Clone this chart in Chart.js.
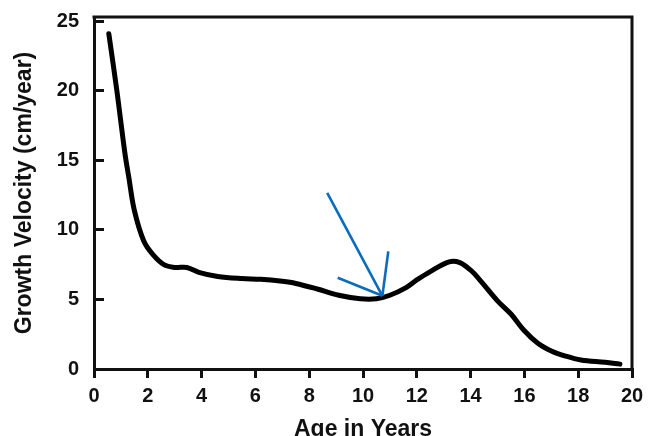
<!DOCTYPE html>
<html>
<head>
<meta charset="utf-8">
<script src="https://cdn.jsdelivr.net/npm/chart.js@4.4.1/dist/chart.umd.min.js"></script>
<style>
  html, body { margin: 0; padding: 0; background: #fff; }
  canvas { display: block; }
</style>
</head>
<body>
<canvas id="myChart" width="660" height="436"></canvas>
<script>
// growth velocity curve
const ages = [0.55, 0.85, 1.15, 1.3, 1.5, 1.85, 2.2, 2.6, 3.0, 3.45, 3.9, 4.6, 5.5, 6.2, 7.0, 7.5, 8.3, 9.1, 9.9, 10.5, 11.0, 11.6, 12.0, 12.5, 13.2, 13.6, 14.0, 14.3, 15.0, 15.5, 16.0, 16.5, 17.0, 17.5, 18.1, 19.0, 19.55];
const velocity = [24.1, 20.0, 15.5, 13.7, 11.4, 9.2, 8.2, 7.5, 7.3, 7.3, 6.95, 6.65, 6.5, 6.45, 6.3, 6.15, 5.75, 5.3, 5.05, 5.05, 5.3, 5.85, 6.4, 7.0, 7.7, 7.65, 7.1, 6.5, 4.9, 3.95, 2.75, 1.85, 1.3, 0.95, 0.65, 0.48, 0.35];

// blue pointer lines: all meet at one tip on the curve
const arrowTip = { x: 10.72, y: 5.26 };
const arrowTails = [
  { x: 8.67, y: 12.66 },
  { x: 9.06, y: 6.56 },
  { x: 10.94, y: 8.45 }
];

const xTicks = [0, 2, 4, 6, 8, 10, 12, 14, 16, 18, 20];
const yTicks = [0, 5, 10, 15, 20, 25];

const curve = ages.map((a, i) => ({ x: a, y: velocity[i] }));

const arrowSets = arrowTails.map(t => ({
  data: [t, arrowTip],
  borderColor: '#0a6cbc',
  borderWidth: 2.6,
  pointRadius: 0,
  tension: 0,
  order: 0
}));

// top and right edges of the box
const boxPlugin = {
  id: 'box',
  afterDraw(chart) {
    const { ctx, chartArea: a } = chart;
    ctx.save();
    ctx.strokeStyle = '#111';
    ctx.lineWidth = 3;
    ctx.beginPath();
    ctx.moveTo(a.left - 1.5, a.top);
    ctx.lineTo(a.right, a.top);
    ctx.lineTo(a.right, a.bottom + 1.5);
    ctx.stroke();
    ctx.restore();
  }
};

const font = { family: 'Liberation Sans, Arial, sans-serif', weight: 'bold', size: 20 };
const titleFont = { family: 'Liberation Sans, Arial, sans-serif', weight: 'bold', size: 23, lineHeight: 1 };

new Chart(document.getElementById('myChart'), {
  type: 'line',
  data: {
    datasets: [
      {
        data: curve,
        borderColor: '#000',
        borderWidth: 5,
        borderCapStyle: 'round',
        borderJoinStyle: 'round',
        pointRadius: 0,
        tension: 0.35,
        order: 1
      },
      ...arrowSets
    ]
  },
  options: {
    responsive: false,
    animation: false,
    devicePixelRatio: 1,
    layout: { padding: { left: 0, right: 28, top: 17, bottom: 0 } },
    plugins: { legend: { display: false }, tooltip: { enabled: false } },
    scales: {
      x: {
        type: 'linear',
        min: 0,
        max: 20,
        afterBuildTicks: s => { s.ticks = xTicks.map(v => ({ value: v })); },
        afterFit: s => { s.height = 67; s.paddingLeft = 0; s.paddingRight = 0; },
        grid: { drawOnChartArea: false, color: '#111', lineWidth: 3, tickLength: 9 },
        border: { color: '#111', width: 3 },
        ticks: { color: '#111', font, padding: 6, maxRotation: 0 },
        title: {
          display: true,
          text: 'Age in Years',
          color: '#111',
          font: titleFont,
          padding: { top: 0, bottom: -5 }
        }
      },
      y: {
        type: 'linear',
        min: 0,
        max: 25.3,
        afterBuildTicks: s => { s.ticks = yTicks.map(v => ({ value: v })); },
        afterFit: s => { s.width = 94; s.paddingTop = 0; s.paddingBottom = 0; },
        grid: { drawOnChartArea: false, color: '#111', lineWidth: 3, tickLength: -10 },
        border: { color: '#111', width: 3 },
        ticks: { color: '#111', font, padding: 25 },
        title: {
          display: true,
          text: 'Growth Velocity (cm/year)',
          color: '#111',
          font: titleFont,
          padding: { top: 13, bottom: 0 }
        }
      }
    }
  },
  plugins: [boxPlugin]
});
</script>
</body>
</html>
